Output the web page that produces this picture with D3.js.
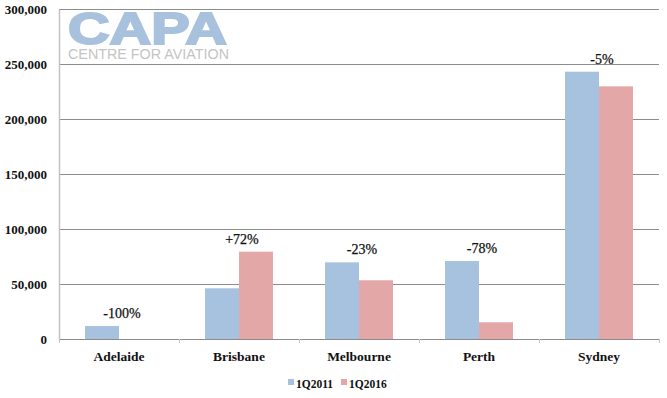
<!DOCTYPE html>
<html>
<head>
<meta charset="utf-8">
<script src="https://cdn.jsdelivr.net/npm/d3@7"></script>
<style>
  body { margin: 0; background: #fff; }
  svg { display: block; }
</style>
</head>
<body>
<div id="chart"></div>
<script>
// data
const cities = ['Adelaide', 'Brisbane', 'Melbourne', 'Perth', 'Sydney']
const seriesNames = ['1Q2011', '1Q2016']
const q2011 = [11800, 46100, 69700, 70900, 243000]
const q2016 = [0, 79400, 53400, 15200, 229700]
const changeLabels = ['-100%', '+72%', '-23%', '-78%', '-5%']
const yTicks = [0, 50000, 100000, 150000, 200000, 250000, 300000]

const colors = ['#a7c2df', '#e4a7a7']
const width = 667
const height = 398

const svg = d3.select('#chart')
  .append('svg')
  .attr('width', width)
  .attr('height', height)

const x0 = d3.scaleBand().domain(cities).range([59, 659])
const x1 = d3.scaleBand().domain(seriesNames).range([0, x0.bandwidth()]).paddingOuter(0.765)
const y = d3.scaleLinear().domain([0, 300000]).range([339, 9])

// watermark logo
const logo = svg.append('g').attr('class', 'logo')
logo.append('text')
  .attr('x', 68).attr('y', 44)
  .attr('textLength', 159).attr('lengthAdjust', 'spacingAndGlyphs')
  .style('font-family', 'Liberation Sans, Arial, sans-serif')
  .style('font-weight', 'bold')
  .style('font-size', '44px')
  .style('fill', '#a8c1dd')
  .style('stroke', '#a8c1dd')
  .style('stroke-width', 2)
  .text('CAPA')
logo.append('text')
  .attr('x', 68).attr('y', 59)
  .attr('textLength', 161).attr('lengthAdjust', 'spacingAndGlyphs')
  .style('font-family', 'Liberation Sans, Arial, sans-serif')
  .style('font-size', '14.5px')
  .style('fill', '#c4c4c4')
  .text('CENTRE FOR AVIATION')

// gridlines
svg.append('g')
  .selectAll('line')
  .data(yTicks)
  .join('line')
  .attr('x1', 59).attr('x2', 659)
  .attr('y1', d => Math.round(y(d)) + 0.5)
  .attr('y2', d => Math.round(y(d)) + 0.5)
  .attr('stroke', '#8c8c8c')
  .attr('stroke-width', 1)

// y axis
const yAxis = svg.append('g')
  .attr('transform', 'translate(59,0)')
  .call(d3.axisLeft(y).tickValues(yTicks).tickFormat(d3.format(',')).tickSize(0).tickPadding(12))
yAxis.select('.domain').attr('stroke', '#c3c3c3').attr('stroke-width', 1.5)
yAxis.selectAll('text')
  .style('font-family', 'Liberation Serif, Times New Roman, serif')
  .style('font-weight', 'bold')
  .style('font-size', '13px')
  .style('fill', '#111')

// x axis with ticks at band boundaries
const xAxis = svg.append('g')
  .attr('transform', 'translate(0,339)')
xAxis.selectAll('line')
  .data(cities.map(c => x0(c)).concat([x0.range()[1]]))
  .join('line')
  .attr('x1', d => d + 0.5).attr('x2', d => d + 0.5)
  .attr('y1', 0).attr('y2', 4)
  .attr('stroke', '#c3c3c3')
xAxis.selectAll('text')
  .data(cities)
  .join('text')
  .attr('x', d => x0(d) + x0.bandwidth() / 2)
  .attr('y', 22)
  .attr('text-anchor', 'middle')
  .style('font-family', 'Liberation Serif, Times New Roman, serif')
  .style('font-weight', 'bold')
  .style('font-size', '13.5px')
  .style('fill', '#111')
  .text(d => d)

// bars
const rows = cities.map((c, i) => ({ city: c, values: [q2011[i], q2016[i]] }))
const groups = svg.append('g')
  .selectAll('g')
  .data(rows)
  .join('g')
  .attr('transform', d => `translate(${x0(d.city)},0)`)

groups.selectAll('rect')
  .data(d => d.values.map((v, j) => ({ key: seriesNames[j], value: v, j })))
  .join('rect')
  .attr('x', d => x1(d.key))
  .attr('width', x1.bandwidth())
  .attr('y', d => y(d.value))
  .attr('height', d => y(0) - y(d.value))
  .attr('fill', d => colors[d.j])

// change labels
svg.append('g')
  .selectAll('text')
  .data(rows)
  .join('text')
  .attr('x', d => x0(d.city) + x0.bandwidth() / 2 + 3)
  .attr('y', d => y(d3.max(d.values)) - 8)
  .attr('text-anchor', 'middle')
  .style('font-family', 'Liberation Serif, Times New Roman, serif')
  .style('font-size', '14px')
  .style('fill', '#111')
  .style('stroke', '#111')
  .style('stroke-width', 0.25)
  .text((d, i) => changeLabels[i])

// legend
const legend = svg.append('g')
  .selectAll('g')
  .data(seriesNames)
  .join('g')
  .attr('transform', (d, i) => `translate(${288 + i * 53},379)`)
legend.append('rect')
  .attr('width', 6).attr('height', 6)
  .attr('fill', (d, i) => colors[i])
legend.append('text')
  .attr('x', 8).attr('y', 9)
  .style('font-family', 'Liberation Serif, Times New Roman, serif')
  .style('font-weight', 'bold')
  .style('font-size', '11.5px')
  .style('fill', '#111')
  .text(d => d)
</script>
</body>
</html>
